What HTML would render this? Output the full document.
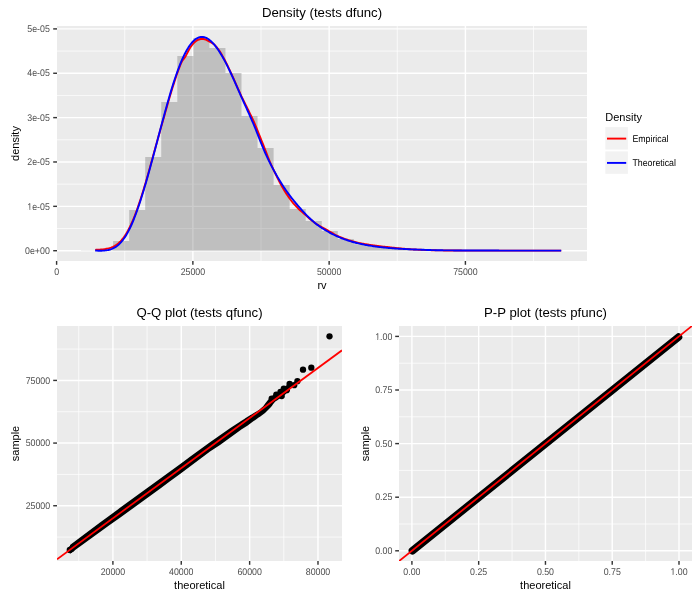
<!DOCTYPE html>
<html><head><meta charset="utf-8"><style>
html,body{margin:0;padding:0;background:#fff;}
svg{display:block;}
text{font-family:"Liberation Sans", sans-serif;}
.tx{filter:grayscale(1);}
.ax{font-size:8.8px;fill:#4D4D4D;text-rendering:geometricPrecision;}
.at{font-size:11px;fill:#000;}
.lt{font-size:8.8px;fill:#000;text-rendering:geometricPrecision;}
.tt{font-size:13.2px;fill:#000;}
</style></head><body>
<svg width="700" height="600" viewBox="0 0 700 600">
<rect width="700" height="600" fill="#fff"/>
<defs><clipPath id="c1"><rect x="57" y="26" width="530" height="235"/></clipPath><clipPath id="c2"><rect x="57" y="326" width="285" height="235"/></clipPath><clipPath id="c3"><rect x="399" y="326" width="293" height="235"/></clipPath></defs>
<rect x="57" y="26" width="530" height="235" fill="#EBEBEB"/>
<line x1="124.73" y1="26" x2="124.73" y2="261" stroke="#fff" stroke-width="0.71"/>
<line x1="261" y1="26" x2="261" y2="261" stroke="#fff" stroke-width="0.71"/>
<line x1="397.27" y1="26" x2="397.27" y2="261" stroke="#fff" stroke-width="0.71"/>
<line x1="533.54" y1="26" x2="533.54" y2="261" stroke="#fff" stroke-width="0.71"/>
<line x1="57" y1="228.52" x2="587" y2="228.52" stroke="#fff" stroke-width="0.71"/>
<line x1="57" y1="184.16" x2="587" y2="184.16" stroke="#fff" stroke-width="0.71"/>
<line x1="57" y1="139.8" x2="587" y2="139.8" stroke="#fff" stroke-width="0.71"/>
<line x1="57" y1="95.44" x2="587" y2="95.44" stroke="#fff" stroke-width="0.71"/>
<line x1="57" y1="51.08" x2="587" y2="51.08" stroke="#fff" stroke-width="0.71"/>
<line x1="192.87" y1="26" x2="192.87" y2="261" stroke="#fff" stroke-width="1.42"/>
<line x1="329.14" y1="26" x2="329.14" y2="261" stroke="#fff" stroke-width="1.42"/>
<line x1="465.4" y1="26" x2="465.4" y2="261" stroke="#fff" stroke-width="1.42"/>
<line x1="57" y1="250.7" x2="587" y2="250.7" stroke="#fff" stroke-width="1.42"/>
<line x1="57" y1="206.34" x2="587" y2="206.34" stroke="#fff" stroke-width="1.42"/>
<line x1="57" y1="161.98" x2="587" y2="161.98" stroke="#fff" stroke-width="1.42"/>
<line x1="57" y1="117.62" x2="587" y2="117.62" stroke="#fff" stroke-width="1.42"/>
<line x1="57" y1="73.26" x2="587" y2="73.26" stroke="#fff" stroke-width="1.42"/>
<line x1="57" y1="28.9" x2="587" y2="28.9" stroke="#fff" stroke-width="1.42"/>
<path d="M81,250.7 L81,250.6 L97.05,250.6 L97.05,250.3 L113.1,250.3 L113.1,241.1 L129.15,241.1 L129.15,210 L145.2,210 L145.2,157 L161.25,157 L161.25,102 L177.3,102 L177.3,56 L193.35,56 L193.35,38.1 L209.4,38.1 L209.4,48 L225.45,48 L225.45,72.9 L241.5,72.9 L241.5,116 L257.55,116 L257.55,148 L273.6,148 L273.6,185 L289.65,185 L289.65,209 L305.7,209 L305.7,220.9 L321.75,220.9 L321.75,231.1 L337.8,231.1 L337.8,239 L353.85,239 L353.85,244.3 L369.9,244.3 L369.9,246.9 L385.95,246.9 L385.95,248.4 L402,248.4 L402,249.3 L418.05,249.3 L418.05,249.8 L434.1,249.8 L434.1,250.1 L450.15,250.1 L450.15,250.3 L466.2,250.3 L466.2,250.4 L482.25,250.4 L482.25,250.5 L498.3,250.5 L498.3,250.6 L514.35,250.6 L514.35,250.6 L530.4,250.6 L530.4,250.6 L546.45,250.6 L546.45,250.5 L562.5,250.5 L562.5,250.7 Z" fill="#595959" fill-opacity="0.3"/>
<g clip-path="url(#c1)" fill="none" stroke-width="1.9" stroke-linejoin="round" stroke-linecap="butt">
<polyline points="95.2,249.84 96.13,249.81 97.07,249.77 98,249.72 98.94,249.67 99.87,249.61 100.8,249.54 101.74,249.46 102.67,249.37 103.6,249.26 104.54,249.12 105.47,248.97 106.41,248.79 107.34,248.6 108.27,248.39 109.21,248.16 110.14,247.9 111.08,247.6 112.01,247.24 112.94,246.83 113.88,246.37 114.81,245.85 115.75,245.27 116.68,244.62 117.61,243.9 118.55,243.11 119.48,242.25 120.41,241.3 121.35,240.28 122.28,239.19 123.22,238.02 124.15,236.76 125.08,235.42 126.02,233.97 126.95,232.43 127.89,230.79 128.82,229.04 129.75,227.2 130.69,225.26 131.62,223.21 132.55,221.06 133.49,218.81 134.42,216.48 135.36,214.07 136.29,211.58 137.22,209.02 138.16,206.37 139.09,203.64 140.03,200.84 140.96,197.96 141.89,195.02 142.83,192.02 143.76,188.95 144.69,185.84 145.63,182.67 146.56,179.45 147.5,176.19 148.43,172.89 149.36,169.55 150.3,166.18 151.23,162.79 152.17,159.38 153.1,155.98 154.03,152.59 154.97,149.21 155.9,145.83 156.84,142.46 157.77,139.09 158.7,135.73 159.64,132.4 160.57,129.1 161.5,125.81 162.44,122.5 163.37,119.18 164.31,115.87 165.24,112.58 166.17,109.31 167.11,106.04 168.04,102.76 168.98,99.5 169.91,96.29 170.84,93.14 171.78,90.06 172.71,87.04 173.64,84.1 174.58,81.22 175.51,78.35 176.45,75.53 177.38,72.82 178.31,70.25 179.25,67.79 180.18,65.41 181.12,63.13 182.05,61.25 182.98,59.81 183.92,58.59 184.85,57.37 185.79,55.93 186.72,54.17 187.65,52.31 188.59,50.47 189.52,48.77 190.45,47.3 191.39,45.97 192.32,44.75 193.26,43.64 194.19,42.65 195.12,41.78 196.06,41.03 196.99,40.4 197.93,39.9 198.86,39.51 199.79,39.22 200.73,39.03 201.66,38.93 202.59,38.93 203.53,39.02 204.46,39.21 205.4,39.49 206.33,39.87 207.26,40.32 208.2,40.86 209.13,41.46 210.07,41.99 211,42.44 211.93,42.9 212.87,43.44 213.8,44.16 214.74,45.06 215.67,46.04 216.6,47.09 217.54,48.23 218.47,49.47 219.4,50.82 220.34,52.28 221.27,53.83 222.21,55.44 223.14,57.1 224.07,58.82 225.01,60.57 225.94,62.38 226.88,64.23 227.81,66.13 228.74,68.08 229.68,70.04 230.61,72.03 231.54,74.05 232.48,76.09 233.41,78.16 234.35,80.27 235.28,82.39 236.21,84.52 237.15,86.65 238.08,88.77 239.02,90.89 239.95,92.99 240.88,95.06 241.82,97.05 242.75,98.99 243.68,100.88 244.62,102.75 245.55,104.61 246.49,106.47 247.42,108.35 248.35,110.26 249.29,112.18 250.22,114.09 251.16,116.02 252.09,117.97 253.02,119.96 253.96,122 254.89,124.11 255.83,126.3 256.76,128.57 257.69,130.9 258.63,133.27 259.56,135.63 260.49,137.97 261.43,140.27 262.36,142.54 263.3,144.91 264.23,147.34 265.16,149.78 266.1,152.18 267.03,154.58 267.97,157 268.9,159.37 269.83,161.63 270.77,163.77 271.7,165.83 272.63,167.83 273.57,169.81 274.5,171.77 275.44,173.73 276.37,175.67 277.3,177.58 278.24,179.44 279.17,181.26 280.11,183.03 281.04,184.75 281.97,186.45 282.91,188.11 283.84,189.72 284.78,191.26 285.71,192.74 286.64,194.15 287.58,195.54 288.51,196.89 289.44,198.22 290.38,199.52 291.31,200.78 292.25,201.97 293.18,203.11 294.11,204.19 295.05,205.22 295.98,206.21 296.92,207.18 297.85,208.14 298.78,209.07 299.72,209.94 300.65,210.78 301.58,211.58 302.52,212.37 303.45,213.16 304.39,213.97 305.32,214.82 306.25,215.67 307.19,216.51 308.12,217.35 309.06,218.17 309.99,218.97 310.92,219.76 311.86,220.53 312.79,221.28 313.73,222 314.66,222.7 315.59,223.36 316.53,224 317.46,224.6 318.39,225.17 319.33,225.73 320.26,226.26 321.2,226.79 322.13,227.3 323.06,227.81 324,228.31 324.93,228.82 325.87,229.34 326.8,229.87 327.73,230.41 328.67,230.96 329.6,231.51 330.53,232.07 331.47,232.62 332.4,233.17 333.34,233.7 334.27,234.23 335.2,234.74 336.14,235.23 337.07,235.71 338.01,236.16 338.94,236.59 339.87,237 340.81,237.38 341.74,237.75 342.67,238.11 343.61,238.46 344.54,238.8 345.48,239.14 346.41,239.46 347.34,239.77 348.28,240.08 349.21,240.38 350.15,240.67 351.08,240.95 352.01,241.22 352.95,241.48 353.88,241.74 354.82,241.99 355.75,242.23 356.68,242.46 357.62,242.68 358.55,242.88 359.48,243.07 360.42,243.26 361.35,243.44 362.29,243.61 363.22,243.77 364.15,243.93 365.09,244.08 366.02,244.24 366.96,244.39 367.89,244.54 368.82,244.69 369.76,244.84 370.69,244.99 371.62,245.13 372.56,245.28 373.49,245.41 374.43,245.55 375.36,245.68 376.29,245.8 377.23,245.92 378.16,246.04 379.1,246.16 380.03,246.27 380.96,246.38 381.9,246.48 382.83,246.58 383.77,246.68 384.7,246.77 385.63,246.87 386.57,246.97 387.5,247.06 388.43,247.17 389.37,247.27 390.3,247.37 391.24,247.48 392.17,247.58 393.1,247.68 394.04,247.79 394.97,247.89 395.91,247.98 396.84,248.08 397.77,248.17 398.71,248.26 399.64,248.35 400.57,248.43 401.51,248.51 402.44,248.59 403.38,248.67 404.31,248.75 405.24,248.83 406.18,248.91 407.11,248.98 408.05,249.06 408.98,249.13 409.91,249.2 410.85,249.27 411.78,249.33 412.72,249.4 413.65,249.46 414.58,249.51 415.52,249.57 416.45,249.62 417.38,249.66 418.32,249.7 419.25,249.74 420.19,249.77 421.12,249.81 422.05,249.85 422.99,249.89 423.92,249.92 424.86,249.96 425.79,249.99 426.72,250.03 427.66,250.06 428.59,250.09 429.52,250.12 430.46,250.15 431.39,250.18 432.33,250.2 433.26,250.23 434.19,250.26 435.13,250.28 436.06,250.3 437,250.33 437.93,250.35 438.86,250.37 439.8,250.39 440.73,250.4 441.66,250.41 442.6,250.42 443.53,250.43 444.47,250.44 445.4,250.45 446.33,250.46 447.27,250.47 448.2,250.48 449.14,250.49 450.07,250.5 451,250.5 451.94,250.51 452.87,250.52 453.81,250.53 454.74,250.53 455.67,250.54 456.61,250.54 457.54,250.55 458.47,250.56 459.41,250.56 460.34,250.57 461.28,250.57 462.21,250.58 463.14,250.58 464.08,250.58 465.01,250.59 465.95,250.59 466.88,250.6 467.81,250.6 468.75,250.6 469.68,250.61 470.61,250.61 471.55,250.61 472.48,250.62 473.42,250.62 474.35,250.62 475.28,250.62 476.22,250.63 477.15,250.63 478.09,250.63 479.02,250.63 479.95,250.63 480.89,250.64 481.82,250.64 482.76,250.64 483.69,250.64 484.62,250.64 485.56,250.64 486.49,250.64 487.42,250.65 488.36,250.65 489.29,250.65 490.23,250.65 491.16,250.65 492.09,250.65 493.03,250.65 493.96,250.65 494.9,250.65 495.83,250.65 496.76,250.65 497.7,250.65 498.63,250.65 499.56,250.65 500.5,250.65 501.43,250.65 502.37,250.65 503.3,250.65 504.23,250.65 505.17,250.65 506.1,250.65 507.04,250.65 507.97,250.65 508.9,250.65 509.84,250.65 510.77,250.65 511.71,250.65 512.64,250.65 513.57,250.65 514.51,250.65 515.44,250.65 516.37,250.65 517.31,250.65 518.24,250.65 519.18,250.65 520.11,250.65 521.04,250.65 521.98,250.65 522.91,250.64 523.85,250.64 524.78,250.64 525.71,250.64 526.65,250.64 527.58,250.64 528.51,250.64 529.45,250.64 530.38,250.64 531.32,250.64 532.25,250.64 533.18,250.64 534.12,250.63 535.05,250.63 535.99,250.63 536.92,250.63 537.85,250.63 538.79,250.63 539.72,250.63 540.65,250.63 541.59,250.63 542.52,250.62 543.46,250.62 544.39,250.62 545.32,250.62 546.26,250.62 547.19,250.62 548.13,250.62 549.06,250.62 549.99,250.61 550.93,250.61 551.86,250.61 552.8,250.61 553.73,250.61 554.66,250.61 555.6,250.61 556.53,250.61 557.46,250.6 558.4,250.6 559.33,250.6 560.27,250.6 561.2,250.6" stroke="#FF0000"/>
<polyline points="95.2,250.56 96.13,250.61 97.07,250.65 98,250.68 98.94,250.7 99.87,250.71 100.8,250.71 101.74,250.69 102.67,250.65 103.6,250.59 104.54,250.51 105.47,250.41 106.41,250.29 107.34,250.14 108.27,249.96 109.21,249.75 110.14,249.5 111.08,249.2 112.01,248.84 112.94,248.43 113.88,247.97 114.81,247.45 115.75,246.87 116.68,246.22 117.61,245.5 118.55,244.71 119.48,243.85 120.41,242.9 121.35,241.87 122.28,240.75 123.22,239.55 124.15,238.26 125.08,236.88 126.02,235.4 126.95,233.83 127.89,232.16 128.82,230.4 129.75,228.53 130.69,226.57 131.62,224.49 132.55,222.32 133.49,220.05 134.42,217.69 135.36,215.26 136.29,212.76 137.22,210.17 138.16,207.51 139.09,204.76 140.03,201.94 140.96,199.05 141.89,196.09 142.83,193.06 143.76,189.98 144.69,186.85 145.63,183.66 146.56,180.42 147.5,177.13 148.43,173.81 149.36,170.45 150.3,167.05 151.23,163.62 152.17,160.17 153.1,156.7 154.03,153.2 154.97,149.7 155.9,146.18 156.84,142.66 157.77,139.13 158.7,135.6 159.64,132.08 160.57,128.57 161.5,125.07 162.44,121.59 163.37,118.13 164.31,114.69 165.24,111.28 166.17,107.9 167.11,104.56 168.04,101.26 168.98,98 169.91,94.79 170.84,91.64 171.78,88.56 172.71,85.54 173.64,82.6 174.58,79.73 175.51,76.94 176.45,74.23 177.38,71.6 178.31,69.05 179.25,66.59 180.18,64.21 181.12,61.92 182.05,59.73 182.98,57.64 183.92,55.65 184.85,53.75 185.79,51.95 186.72,50.24 187.65,48.65 188.59,47.15 189.52,45.76 190.45,44.48 191.39,43.29 192.32,42.2 193.26,41.21 194.19,40.31 195.12,39.52 196.06,38.83 196.99,38.25 197.93,37.78 198.86,37.42 199.79,37.16 200.73,36.99 201.66,36.92 202.59,36.94 203.53,37.06 204.46,37.26 205.4,37.57 206.33,37.96 207.26,38.45 208.2,39.02 209.13,39.67 210.07,40.4 211,41.21 211.93,42.1 212.87,43.07 213.8,44.11 214.74,45.22 215.67,46.4 216.6,47.63 217.54,48.93 218.47,50.29 219.4,51.7 220.34,53.18 221.27,54.72 222.21,56.32 223.14,57.96 224.07,59.65 225.01,61.39 225.94,63.18 226.88,65.02 227.81,66.9 228.74,68.82 229.68,70.77 230.61,72.74 231.54,74.75 232.48,76.79 233.41,78.86 234.35,80.97 235.28,83.09 236.21,85.22 237.15,87.35 238.08,89.47 239.02,91.59 239.95,93.69 240.88,95.79 241.82,97.87 242.75,99.94 243.68,102 244.62,104.06 245.55,106.12 246.49,108.18 247.42,110.25 248.35,112.33 249.29,114.41 250.22,116.51 251.16,118.64 252.09,120.78 253.02,122.95 253.96,125.15 254.89,127.4 255.83,129.69 256.76,132.03 257.69,134.43 258.63,136.85 259.56,139.27 260.49,141.65 261.43,143.97 262.36,146.23 263.3,148.45 264.23,150.63 265.16,152.76 266.1,154.85 267.03,156.88 267.97,158.86 268.9,160.79 269.83,162.69 270.77,164.55 271.7,166.37 272.63,168.16 273.57,169.92 274.5,171.64 275.44,173.32 276.37,174.98 277.3,176.6 278.24,178.2 279.17,179.76 280.11,181.31 281.04,182.82 281.97,184.31 282.91,185.78 283.84,187.22 284.78,188.61 285.71,189.97 286.64,191.29 287.58,192.58 288.51,193.86 289.44,195.12 290.38,196.36 291.31,197.58 292.25,198.78 293.18,199.94 294.11,201.09 295.05,202.22 295.98,203.33 296.92,204.43 297.85,205.52 298.78,206.6 299.72,207.67 300.65,208.74 301.58,209.8 302.52,210.84 303.45,211.86 304.39,212.87 305.32,213.86 306.25,214.83 307.19,215.79 308.12,216.72 309.06,217.64 309.99,218.53 310.92,219.4 311.86,220.25 312.79,221.08 313.73,221.89 314.66,222.67 315.59,223.42 316.53,224.16 317.46,224.87 318.39,225.56 319.33,226.22 320.26,226.87 321.2,227.5 322.13,228.12 323.06,228.71 324,229.3 324.93,229.87 325.87,230.42 326.8,230.97 327.73,231.5 328.67,232.03 329.6,232.55 330.53,233.06 331.47,233.56 332.4,234.04 333.34,234.52 334.27,234.98 335.2,235.43 336.14,235.86 337.07,236.29 338.01,236.7 338.94,237.1 339.87,237.5 340.81,237.88 341.74,238.25 342.67,238.61 343.61,238.96 344.54,239.3 345.48,239.64 346.41,239.96 347.34,240.27 348.28,240.58 349.21,240.88 350.15,241.17 351.08,241.45 352.01,241.72 352.95,241.98 353.88,242.24 354.82,242.49 355.75,242.73 356.68,242.97 357.62,243.2 358.55,243.42 359.48,243.64 360.42,243.85 361.35,244.05 362.29,244.25 363.22,244.44 364.15,244.63 365.09,244.81 366.02,244.98 366.96,245.15 367.89,245.32 368.82,245.48 369.76,245.64 370.69,245.79 371.62,245.93 372.56,246.08 373.49,246.21 374.43,246.35 375.36,246.48 376.29,246.6 377.23,246.72 378.16,246.84 379.1,246.96 380.03,247.07 380.96,247.18 381.9,247.28 382.83,247.38 383.77,247.48 384.7,247.57 385.63,247.67 386.57,247.76 387.5,247.84 388.43,247.93 389.37,248.01 390.3,248.09 391.24,248.16 392.17,248.24 393.1,248.31 394.04,248.38 394.97,248.45 395.91,248.51 396.84,248.58 397.77,248.64 398.71,248.7 399.64,248.76 400.57,248.81 401.51,248.87 402.44,248.92 403.38,248.97 404.31,249.02 405.24,249.07 406.18,249.12 407.11,249.16 408.05,249.2 408.98,249.25 409.91,249.29 410.85,249.33 411.78,249.37 412.72,249.4 413.65,249.44 414.58,249.48 415.52,249.51 416.45,249.54 417.38,249.58 418.32,249.61 419.25,249.64 420.19,249.67 421.12,249.71 422.05,249.75 422.99,249.79 423.92,249.82 424.86,249.86 425.79,249.89 426.72,249.93 427.66,249.96 428.59,249.99 429.52,250.02 430.46,250.05 431.39,250.08 432.33,250.1 433.26,250.13 434.19,250.16 435.13,250.18 436.06,250.2 437,250.23 437.93,250.25 438.86,250.27 439.8,250.29 440.73,250.3 441.66,250.31 442.6,250.32 443.53,250.33 444.47,250.34 445.4,250.35 446.33,250.36 447.27,250.37 448.2,250.38 449.14,250.39 450.07,250.4 451,250.4 451.94,250.41 452.87,250.42 453.81,250.43 454.74,250.43 455.67,250.44 456.61,250.45 457.54,250.45 458.47,250.46 459.41,250.46 460.34,250.47 461.28,250.47 462.21,250.48 463.14,250.48 464.08,250.49 465.01,250.49 465.95,250.5 466.88,250.5 467.81,250.5 468.75,250.51 469.68,250.51 470.61,250.51 471.55,250.52 472.48,250.52 473.42,250.52 474.35,250.53 475.28,250.53 476.22,250.53 477.15,250.54 478.09,250.54 479.02,250.54 479.95,250.54 480.89,250.54 481.82,250.55 482.76,250.55 483.69,250.55 484.62,250.55 485.56,250.55 486.49,250.56 487.42,250.56 488.36,250.56 489.29,250.56 490.23,250.56 491.16,250.56 492.09,250.57 493.03,250.57 493.96,250.57 494.9,250.57 495.83,250.57 496.76,250.57 497.7,250.57 498.63,250.57 499.56,250.58 500.5,250.58 501.43,250.58 502.37,250.58 503.3,250.58 504.23,250.58 505.17,250.58 506.1,250.58 507.04,250.58 507.97,250.58 508.9,250.58 509.84,250.58 510.77,250.58 511.71,250.59 512.64,250.59 513.57,250.59 514.51,250.59 515.44,250.59 516.37,250.59 517.31,250.59 518.24,250.59 519.18,250.59 520.11,250.59 521.04,250.59 521.98,250.59 522.91,250.59 523.85,250.59 524.78,250.59 525.71,250.59 526.65,250.59 527.58,250.59 528.51,250.59 529.45,250.59 530.38,250.59 531.32,250.59 532.25,250.59 533.18,250.59 534.12,250.59 535.05,250.59 535.99,250.6 536.92,250.6 537.85,250.6 538.79,250.6 539.72,250.6 540.65,250.6 541.59,250.6 542.52,250.6 543.46,250.6 544.39,250.6 545.32,250.6 546.26,250.6 547.19,250.6 548.13,250.6 549.06,250.6 549.99,250.6 550.93,250.6 551.86,250.6 552.8,250.6 553.73,250.6 554.66,250.6 555.6,250.6 556.53,250.6 557.46,250.6 558.4,250.6 559.33,250.6 560.27,250.6 561.2,250.6" stroke="#0000FF"/>
</g>
<line x1="56.6" y1="261" x2="56.6" y2="264.8" stroke="#333" stroke-width="1.42"/>
<line x1="192.87" y1="261" x2="192.87" y2="264.8" stroke="#333" stroke-width="1.42"/>
<line x1="329.14" y1="261" x2="329.14" y2="264.8" stroke="#333" stroke-width="1.42"/>
<line x1="465.4" y1="261" x2="465.4" y2="264.8" stroke="#333" stroke-width="1.42"/>
<line x1="53.2" y1="250.7" x2="57" y2="250.7" stroke="#333" stroke-width="1.42"/>
<line x1="53.2" y1="206.34" x2="57" y2="206.34" stroke="#333" stroke-width="1.42"/>
<line x1="53.2" y1="161.98" x2="57" y2="161.98" stroke="#333" stroke-width="1.42"/>
<line x1="53.2" y1="117.62" x2="57" y2="117.62" stroke="#333" stroke-width="1.42"/>
<line x1="53.2" y1="73.26" x2="57" y2="73.26" stroke="#333" stroke-width="1.42"/>
<line x1="53.2" y1="28.9" x2="57" y2="28.9" stroke="#333" stroke-width="1.42"/>
<rect x="605.3" y="127.1" width="22.6" height="22.4" fill="#F2F2F2"/>
<line x1="607" y1="138.6" x2="626.2" y2="138.6" stroke="#FF0000" stroke-width="1.9"/>
<rect x="605.3" y="151.4" width="22.6" height="22.4" fill="#F2F2F2"/>
<line x1="607" y1="162.9" x2="626.2" y2="162.9" stroke="#0000FF" stroke-width="1.9"/>
<rect x="57" y="326" width="285" height="235" fill="#EBEBEB"/>
<line x1="78.71" y1="326" x2="78.71" y2="561" stroke="#fff" stroke-width="0.71"/>
<line x1="147.08" y1="326" x2="147.08" y2="561" stroke="#fff" stroke-width="0.71"/>
<line x1="215.44" y1="326" x2="215.44" y2="561" stroke="#fff" stroke-width="0.71"/>
<line x1="283.81" y1="326" x2="283.81" y2="561" stroke="#fff" stroke-width="0.71"/>
<line x1="57" y1="537.07" x2="342" y2="537.07" stroke="#fff" stroke-width="0.71"/>
<line x1="57" y1="474.41" x2="342" y2="474.41" stroke="#fff" stroke-width="0.71"/>
<line x1="57" y1="411.75" x2="342" y2="411.75" stroke="#fff" stroke-width="0.71"/>
<line x1="57" y1="349.09" x2="342" y2="349.09" stroke="#fff" stroke-width="0.71"/>
<line x1="112.9" y1="326" x2="112.9" y2="561" stroke="#fff" stroke-width="1.42"/>
<line x1="181.26" y1="326" x2="181.26" y2="561" stroke="#fff" stroke-width="1.42"/>
<line x1="249.63" y1="326" x2="249.63" y2="561" stroke="#fff" stroke-width="1.42"/>
<line x1="317.99" y1="326" x2="317.99" y2="561" stroke="#fff" stroke-width="1.42"/>
<line x1="57" y1="505.74" x2="342" y2="505.74" stroke="#fff" stroke-width="1.42"/>
<line x1="57" y1="443.08" x2="342" y2="443.08" stroke="#fff" stroke-width="1.42"/>
<line x1="57" y1="380.42" x2="342" y2="380.42" stroke="#fff" stroke-width="1.42"/>
<g clip-path="url(#c2)">
<path d="M70,545.02 L80,537.49 L90,530.01 L100,522.53 L110,515.2 L120,507.86 L130,500.53 L140,493.27 L150,486 L160,478.73 L170,471.43 L180,464.14 L190,456.84 L200,449.55 L210,442.27 L220,435.14 L230,428.31 L240,421.78 L241,421.11 L242,420.45 L243,419.79 L244,419.13 L245,418.47 L246,417.8 L247,417.14 L248,416.54 L249,415.94 L250,415.34 L251,414.74 L252,414.14 L253,413.54 L254,412.94 L255,412.34 L256,411.74 L257,411.14 L258,410.54 L259,409.94 L260,409.09 L261,408.23 L262,407.37 L263,406.51 L264,405.13 L265,403.74 L266,402.51 L267,401.28 L268,400.05 L269,398.98 L270,397.91 L271,396.85 L272,396.06 L273,395.28 L274,394.5 L275,393.71 L276,393.08 L277,392.45 L278,391.81 L279,391.18 L280,390.55 L281,389.75 L282,388.96 L283,388.17 L284,387.37 L285,386.58 L286,385.75 L287,384.91 L288,384.08 L289,383.25 L290,382.41 L290,390.41 L289,391.27 L288,392.12 L287,392.97 L286,393.83 L285,394.68 L284,395.43 L283,396.19 L282,396.94 L281,397.69 L280,398.45 L279,399.1 L278,399.75 L277,400.41 L276,401.06 L275,401.71 L274,403.02 L273,404.33 L272,405.64 L271,406.95 L270,407.98 L269,409.01 L268,410.05 L267,411.04 L266,412.04 L265,413.04 L264,413.78 L263,414.51 L262,415.22 L261,415.93 L260,416.64 L259,417.34 L258,418.04 L257,418.74 L256,419.44 L255,420.14 L254,420.84 L253,421.54 L252,422.28 L251,423.01 L250,423.74 L249,424.48 L248,425.21 L247,425.94 L246,426.58 L245,427.21 L244,427.84 L243,428.48 L242,429.11 L241,429.74 L240,430.38 L230,437.84 L220,444.91 L210,451.57 L200,459.05 L190,466.54 L180,473.9 L170,481.27 L160,488.63 L150,495.93 L140,503.23 L130,510.53 L120,517.66 L110,524.8 L100,531.93 L90,539.16 L80,546.39 L70,553.72 Z" fill="#000"/>
<circle cx="69.8" cy="550.0" r="3.15" fill="#000"/>
<circle cx="71.5" cy="549.0" r="3.15" fill="#000"/>
<circle cx="271.7" cy="398.6" r="3.15" fill="#000"/>
<circle cx="276.3" cy="394.6" r="3.15" fill="#000"/>
<circle cx="280.5" cy="392.0" r="3.15" fill="#000"/>
<circle cx="283.8" cy="388.6" r="3.15" fill="#000"/>
<circle cx="281.7" cy="396.0" r="3.15" fill="#000"/>
<circle cx="286.7" cy="390.2" r="3.15" fill="#000"/>
<circle cx="289.6" cy="384.0" r="3.15" fill="#000"/>
<circle cx="294.2" cy="385.2" r="3.15" fill="#000"/>
<circle cx="297.4" cy="381.2" r="3.15" fill="#000"/>
<circle cx="303.0" cy="369.7" r="3.15" fill="#000"/>
<circle cx="311.3" cy="367.7" r="3.15" fill="#000"/>
<circle cx="329.5" cy="336.3" r="3.15" fill="#000"/>
<line x1="57" y1="559.26" x2="342" y2="350.29" stroke="#FF0000" stroke-width="1.75"/>
</g>
<line x1="112.9" y1="561" x2="112.9" y2="564.8" stroke="#333" stroke-width="1.42"/>
<line x1="181.26" y1="561" x2="181.26" y2="564.8" stroke="#333" stroke-width="1.42"/>
<line x1="249.63" y1="561" x2="249.63" y2="564.8" stroke="#333" stroke-width="1.42"/>
<line x1="317.99" y1="561" x2="317.99" y2="564.8" stroke="#333" stroke-width="1.42"/>
<line x1="53.2" y1="505.74" x2="57" y2="505.74" stroke="#333" stroke-width="1.42"/>
<line x1="53.2" y1="443.08" x2="57" y2="443.08" stroke="#333" stroke-width="1.42"/>
<line x1="53.2" y1="380.42" x2="57" y2="380.42" stroke="#333" stroke-width="1.42"/>
<rect x="399" y="326" width="293" height="235" fill="#EBEBEB"/>
<line x1="445.29" y1="326" x2="445.29" y2="561" stroke="#fff" stroke-width="0.71"/>
<line x1="512.06" y1="326" x2="512.06" y2="561" stroke="#fff" stroke-width="0.71"/>
<line x1="578.84" y1="326" x2="578.84" y2="561" stroke="#fff" stroke-width="0.71"/>
<line x1="645.61" y1="326" x2="645.61" y2="561" stroke="#fff" stroke-width="0.71"/>
<line x1="399" y1="524" x2="692" y2="524" stroke="#fff" stroke-width="0.71"/>
<line x1="399" y1="470.4" x2="692" y2="470.4" stroke="#fff" stroke-width="0.71"/>
<line x1="399" y1="416.8" x2="692" y2="416.8" stroke="#fff" stroke-width="0.71"/>
<line x1="399" y1="363.2" x2="692" y2="363.2" stroke="#fff" stroke-width="0.71"/>
<line x1="411.9" y1="326" x2="411.9" y2="561" stroke="#fff" stroke-width="1.42"/>
<line x1="478.67" y1="326" x2="478.67" y2="561" stroke="#fff" stroke-width="1.42"/>
<line x1="545.45" y1="326" x2="545.45" y2="561" stroke="#fff" stroke-width="1.42"/>
<line x1="612.23" y1="326" x2="612.23" y2="561" stroke="#fff" stroke-width="1.42"/>
<line x1="679" y1="326" x2="679" y2="561" stroke="#fff" stroke-width="1.42"/>
<line x1="399" y1="550.8" x2="692" y2="550.8" stroke="#fff" stroke-width="1.42"/>
<line x1="399" y1="497.2" x2="692" y2="497.2" stroke="#fff" stroke-width="1.42"/>
<line x1="399" y1="443.6" x2="692" y2="443.6" stroke="#fff" stroke-width="1.42"/>
<line x1="399" y1="390" x2="692" y2="390" stroke="#fff" stroke-width="1.42"/>
<line x1="399" y1="336.4" x2="692" y2="336.4" stroke="#fff" stroke-width="1.42"/>
<g clip-path="url(#c3)">
<line x1="412.43" y1="550.67" x2="678.47" y2="337.13" stroke="#000" stroke-width="7.6" stroke-linecap="round"/>
<line x1="399" y1="561.15" x2="692" y2="325.96" stroke="#FF0000" stroke-width="1.75"/>
</g>
<line x1="411.9" y1="561" x2="411.9" y2="564.8" stroke="#333" stroke-width="1.42"/>
<line x1="478.67" y1="561" x2="478.67" y2="564.8" stroke="#333" stroke-width="1.42"/>
<line x1="545.45" y1="561" x2="545.45" y2="564.8" stroke="#333" stroke-width="1.42"/>
<line x1="612.23" y1="561" x2="612.23" y2="564.8" stroke="#333" stroke-width="1.42"/>
<line x1="679" y1="561" x2="679" y2="564.8" stroke="#333" stroke-width="1.42"/>
<line x1="395.2" y1="550.8" x2="399" y2="550.8" stroke="#333" stroke-width="1.42"/>
<line x1="395.2" y1="497.2" x2="399" y2="497.2" stroke="#333" stroke-width="1.42"/>
<line x1="395.2" y1="443.6" x2="399" y2="443.6" stroke="#333" stroke-width="1.42"/>
<line x1="395.2" y1="390" x2="399" y2="390" stroke="#333" stroke-width="1.42"/>
<line x1="395.2" y1="336.4" x2="399" y2="336.4" stroke="#333" stroke-width="1.42"/>
<g class="tx"><text transform="translate(56.6,274.8) scale(1,1.1)" text-anchor="middle" class="ax">0</text>
<text transform="translate(192.87,274.8) scale(1,1.1)" text-anchor="middle" class="ax">25000</text>
<text transform="translate(329.14,274.8) scale(1,1.1)" text-anchor="middle" class="ax">50000</text>
<text transform="translate(465.4,274.8) scale(1,1.1)" text-anchor="middle" class="ax">75000</text>
<text transform="translate(49.8,253.9) scale(1,1.1)" text-anchor="end" class="ax">0e+00</text>
<text transform="translate(49.8,209.54) scale(1,1.1)" text-anchor="end" class="ax">1e-05</text>
<text transform="translate(49.8,165.18) scale(1,1.1)" text-anchor="end" class="ax">2e-05</text>
<text transform="translate(49.8,120.82) scale(1,1.1)" text-anchor="end" class="ax">3e-05</text>
<text transform="translate(49.8,76.46) scale(1,1.1)" text-anchor="end" class="ax">4e-05</text>
<text transform="translate(49.8,32.1) scale(1,1.1)" text-anchor="end" class="ax">5e-05</text>
<text x="322" y="17" text-anchor="middle" class="tt">Density (tests dfunc)</text>
<text x="322" y="289" text-anchor="middle" class="at">rv</text>
<text transform="translate(19,143.5) rotate(-90)" text-anchor="middle" class="at">density</text>
<text x="605.3" y="120.7" class="at">Density</text>
<text transform="translate(632.4,141.7) scale(1,1.1)" class="lt">Empirical</text>
<text transform="translate(632.4,166) scale(1,1.1)" class="lt">Theoretical</text>
<text transform="translate(112.9,574.8) scale(1,1.1)" text-anchor="middle" class="ax">20000</text>
<text transform="translate(181.26,574.8) scale(1,1.1)" text-anchor="middle" class="ax">40000</text>
<text transform="translate(249.63,574.8) scale(1,1.1)" text-anchor="middle" class="ax">60000</text>
<text transform="translate(317.99,574.8) scale(1,1.1)" text-anchor="middle" class="ax">80000</text>
<text transform="translate(50.1,508.94) scale(1,1.1)" text-anchor="end" class="ax">25000</text>
<text transform="translate(50.1,446.28) scale(1,1.1)" text-anchor="end" class="ax">50000</text>
<text transform="translate(50.1,383.62) scale(1,1.1)" text-anchor="end" class="ax">75000</text>
<text x="199.5" y="317" text-anchor="middle" class="tt">Q-Q plot (tests qfunc)</text>
<text x="199.5" y="589" text-anchor="middle" class="at">theoretical</text>
<text transform="translate(19,443.5) rotate(-90)" text-anchor="middle" class="at">sample</text>
<text transform="translate(411.9,574.8) scale(1,1.1)" text-anchor="middle" class="ax">0.00</text>
<text transform="translate(478.67,574.8) scale(1,1.1)" text-anchor="middle" class="ax">0.25</text>
<text transform="translate(545.45,574.8) scale(1,1.1)" text-anchor="middle" class="ax">0.50</text>
<text transform="translate(612.23,574.8) scale(1,1.1)" text-anchor="middle" class="ax">0.75</text>
<text transform="translate(679,574.8) scale(1,1.1)" text-anchor="middle" class="ax">1.00</text>
<text transform="translate(392.3,554) scale(1,1.1)" text-anchor="end" class="ax">0.00</text>
<text transform="translate(392.3,500.4) scale(1,1.1)" text-anchor="end" class="ax">0.25</text>
<text transform="translate(392.3,446.8) scale(1,1.1)" text-anchor="end" class="ax">0.50</text>
<text transform="translate(392.3,393.2) scale(1,1.1)" text-anchor="end" class="ax">0.75</text>
<text transform="translate(392.3,339.6) scale(1,1.1)" text-anchor="end" class="ax">1.00</text>
<text x="545.5" y="317" text-anchor="middle" class="tt">P-P plot (tests pfunc)</text>
<text x="545.5" y="589" text-anchor="middle" class="at">theoretical</text>
<text transform="translate(369,443.5) rotate(-90)" text-anchor="middle" class="at">sample</text>
<g transform="translate(49.8,209.54) scale(1,1.1)" fill="#fff"><rect x="-21.99" y="-0.72" width="1.7" height="1.3"/><rect x="-19.52" y="-0.72" width="1.65" height="1.3"/></g>
<g transform="translate(679,574.8) scale(1,1.1)" fill="#fff"><rect x="-8.05" y="-0.72" width="1.7" height="1.3"/><rect x="-5.57" y="-0.72" width="1.65" height="1.3"/></g>
<g transform="translate(392.3,339.6) scale(1,1.1)" fill="#fff"><rect x="-16.61" y="-0.72" width="1.7" height="1.3"/><rect x="-14.14" y="-0.72" width="1.65" height="1.3"/></g></g>
</svg>
</body></html>
